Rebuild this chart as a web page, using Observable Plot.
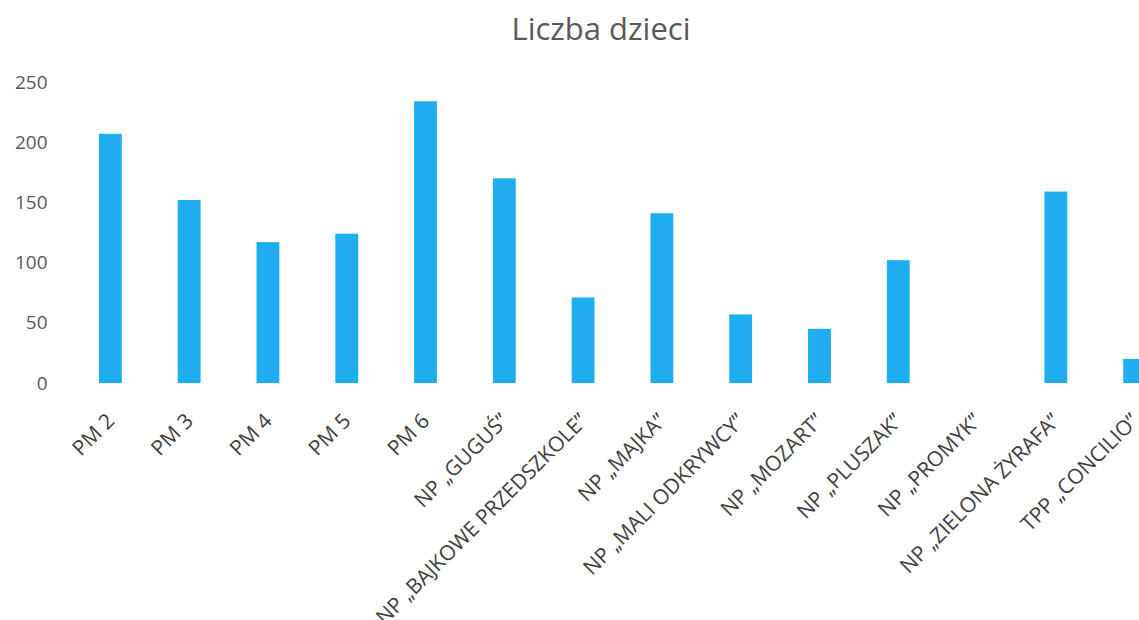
<!DOCTYPE html>
<html>
<head>
<meta charset="utf-8">
<script src="https://cdn.jsdelivr.net/npm/d3@7"></script>
<script src="https://cdn.jsdelivr.net/npm/@observablehq/plot@0.6"></script>
<style>
  html, body { margin: 0; padding: 0; background: #fff; overflow: hidden; width: 1139px; height: 620px; }
  #title { position: relative; height: 60px; width: 1139px; font-family: "Open Sans", sans-serif; }
  #title span { position: absolute; left: 601px; top: 8px; transform: translateX(-50%); font-size: 31px; color: #595959; white-space: nowrap; line-height: 40px; }
  #chart svg { display: block; overflow: hidden; }
</style>
</head>
<body>
<div id="title"><span>Liczba dzieci</span></div>
<div id="chart"></div>
<script>
const categories = [
  "PM 2", "PM 3", "PM 4", "PM 5", "PM 6",
  "NP „GUGUŚ”", "NP „BAJKOWE PRZEDSZKOLE”", "NP „MAJKA”",
  "NP „MALI ODKRYWCY”", "NP „MOZART”", "NP „PLUSZAK”",
  "NP „PROMYK”", "NP „ZIELONA ŻYRAFA”", "TPP „CONCILIO”"
];
const values = [207, 152, 117, 124, 234, 170, 71, 141, 57, 45, 102, 0, 159, 20];
const yTicks = [0, 50, 100, 150, 200, 250];

const data = categories.map((c, i) => ({ name: c, value: values[i] }));

const chart = Plot.plot({
  width: 1139,
  height: 560,
  marginTop: 22,
  marginBottom: 237,
  marginLeft: 55,
  marginRight: 0,
  style: { fontFamily: "'Open Sans', sans-serif", background: "white", overflow: "hidden" },
  x: { domain: categories, range: [43, 1202], padding: 0.71, round: false },
  y: { domain: [0, 250] },
  marks: [
    Plot.barY(data, { x: "name", y: "value", fill: "#1eaef0" }),
    Plot.axisY({ ticks: yTicks, tickSize: 0, tickPadding: 8, fontSize: 19, color: "#595959", label: null }),
    Plot.axisX({ tickSize: 0, tickPadding: 34, tickRotate: -45, fontSize: 21, color: "#404040", label: null })
  ]
});
document.getElementById("chart").appendChild(chart);
</script>
</body>
</html>
